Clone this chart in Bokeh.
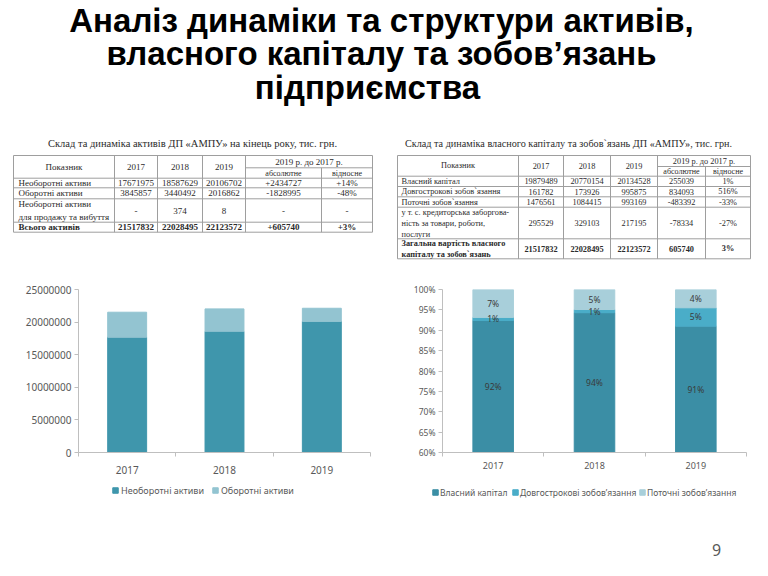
from bokeh.plotting import figure
from bokeh.layouts import column, row
from bokeh.models import Range1d, FixedTicker, PrintfTickFormatter, ColumnDataSource
from bokeh.core.properties import value
from bokeh.embed import file_html
from bokeh.resources import INLINE

# ---------------- data ----------------
title_lines = ["Аналіз динаміки та структури активів,",
               "власного капіталу та зобов’язань",
               "підприємства"]

years = ["2017", "2018", "2019"]

# table 1: assets
assets_title = "Склад та динаміка активів ДП «АМПУ» на кінець року, тис. грн."
assets_labels = [["Необоротні активи"], ["Оборотні активи"],
                 ["Необоротні активи", "для продажу та вибуття"], ["Всього активів"]]
assets_2017 = ["17671975", "3845857", "-", "21517832"]
assets_2018 = ["18587629", "3440492", "374", "22028495"]
assets_2019 = ["20106702", "2016862", "8", "22123572"]
assets_abs = ["+2434727", "-1828995", "-", "+605740"]
assets_rel = ["+14%", "-48%", "-", "+3%"]

# table 2: equity and liabilities
liab_title = "Склад та динаміка власного капіталу та зобов`язань ДП «АМПУ», тис. грн."
liab_labels = [["Власний капітал"], ["Довгострокові зобов`язання"], ["Поточні зобов`язання"],
               ["у т. с. кредиторська заборгова-", "ність за товари, роботи,", "послуги"],
               ["Загальна вартість власного", "капіталу та зобов`язань"]]
liab_2017 = ["19879489", "161782", "1476561", "295529", "21517832"]
liab_2018 = ["20770154", "173926", "1084415", "329103", "22028495"]
liab_2019 = ["20134528", "995875", "993169", "217195", "22123572"]
liab_abs = ["255039", "834093", "-483392", "-78334", "605740"]
liab_rel = ["1%", "516%", "-33%", "-27%", "3%"]

head_label = "Показник"
head_group = "2019 р. до 2017 р."
head_abs = "абсолютне"
head_rel = "відносне"

# chart 1: assets, thousand UAH
noncurrent_assets = [17671975, 18587629, 20106702]
current_assets = [3845857, 3440492, 2016862]
assets_series = ["Необоротні активи", "Оборотні активи"]
assets_ticks = [0, 5000000, 10000000, 15000000, 20000000, 25000000]

# chart 2: structure of equity and liabilities, %
equity_share = [92.4, 94.3, 91.0]
longterm_share = [0.75, 0.79, 4.51]
current_share = [6.85, 4.91, 4.49]
struct_series = ["Власний капітал", "Довгострокові зобов’язання", "Поточні зобов’язання"]
struct_ticks = [60, 65, 70, 75, 80, 85, 90, 95, 100]

page_number = "9"

# ---------------- styles ----------------
SERIF = "Liberation Serif"
SANS = "Noto Sans"
GRID = "#9E9E9E"
TXT = "#2B2B2B"
AXIS = "#BFBFBF"
LAB = "#595959"
C1 = ["#3F96AC", "#93C4D1"]
C2 = ["#3B8EA5", "#4AADC8", "#A8CFDA"]


def canvas(w, h):
    f = figure(width=w, height=h, x_range=Range1d(0, w), y_range=Range1d(h, 0),
               x_axis_location=None, y_axis_location=None, toolbar_location=None,
               output_backend="svg", min_border=0, outline_line_color=None)
    f.xgrid.visible = False
    f.ygrid.visible = False
    return f


# ---------------- top: title and tables ----------------
top = canvas(768, 270)
top.text(x=[381, 381, 367], y=[1, 34, 68], text=title_lines,
         text_font=value("Liberation Sans"), text_font_style="bold", text_font_size="33px",
         text_align="center", text_baseline="top", text_color="#000000")


def draw_table(p, cols, rows_y, sub_y, title, title_x, title_size, labels, cols_vals, fsize, line_h, pad):
    x0, y0, x1, y1 = [], [], [], []
    for y in rows_y:
        x0.append(cols[0]); x1.append(cols[-1]); y0.append(y); y1.append(y)
    x0.append(cols[4]); x1.append(cols[6]); y0.append(sub_y); y1.append(sub_y)
    for i, x in enumerate(cols):
        x0.append(x); x1.append(x)
        y0.append(sub_y if i == 5 else rows_y[0]); y1.append(rows_y[-1])
    p.segment(x0, y0, x1, y1, line_color=GRID, line_width=1)

    p.text(x=[title_x], y=[rows_y[0] - 12], text=[title], text_font=value(SERIF),
           text_font_size=title_size, text_align="center", text_baseline="middle", text_color=TXT)

    hx, hy, ht = [], [], []
    hmid = (rows_y[0] + rows_y[1]) / 2
    hx.append((cols[0] + cols[1]) / 2); hy.append(hmid); ht.append(head_label)
    for k, yr in enumerate(years):
        hx.append((cols[k + 1] + cols[k + 2]) / 2); hy.append(hmid); ht.append(yr)
    hx.append((cols[4] + cols[6]) / 2); hy.append((rows_y[0] + sub_y) / 2); ht.append(head_group)
    p.text(x=hx, y=hy, text=ht, text_font=value(SERIF), text_font_size=fsize,
           text_align="center", text_baseline="middle", text_color=TXT)
    smid = (sub_y + rows_y[1]) / 2
    p.text(x=[(cols[4] + cols[5]) / 2, (cols[5] + cols[6]) / 2], y=[smid, smid],
           text=[head_abs, head_rel], text_font=value(SERIF), text_font_size="8px",
           text_align="center", text_baseline="middle", text_color=TXT)

    n = len(labels)
    for i in range(n):
        yc = (rows_y[i + 1] + rows_y[i + 2]) / 2
        style = "bold" if i == n - 1 else "normal"
        lines = labels[i]
        ly = [yc + (k - (len(lines) - 1) / 2) * line_h for k in range(len(lines))]
        p.text(x=[cols[0] + pad] * len(lines), y=ly, text=lines, text_font=value(SERIF),
               text_font_size=fsize, text_font_style=style, text_align="left",
               text_baseline="middle", text_color=TXT)
        vx = [(cols[j + 1] + cols[j + 2]) / 2 for j in range(5)]
        vt = [cv[i] for cv in cols_vals]
        p.text(x=vx, y=[yc] * 5, text=vt, text_font=value(SERIF), text_font_size=fsize,
               text_font_style=style, text_align="center", text_baseline="middle", text_color=TXT)


draw_table(top, [13, 114, 157, 202, 245, 321, 372],
           [155, 177.7, 187.3, 198.3, 221.7, 231.7], 167.3,
           assets_title, 192, "10.5px", assets_labels,
           [assets_2017, assets_2018, assets_2019, assets_abs, assets_rel], "9px", 12.5, 5)

draw_table(top, [397, 518, 563, 610, 657, 705, 750],
           [155, 175.7, 186, 196.3, 206.7, 238.3, 258.3], 166,
           liab_title, 568, "10.2px", liab_labels,
           [liab_2017, liab_2018, liab_2019, liab_abs, liab_rel], "8.3px", 11, 4)

# ---------------- chart helpers ----------------
pos = [i + 0.5 for i in range(len(years))]


def style_axes(p, yticks, yfmt, fx, fy, x_standoff, y_standoff):
    p.xgrid.visible = False
    p.ygrid.visible = False
    xa = p.xaxis[0]
    xa.ticker = FixedTicker(ticks=pos, minor_ticks=list(range(len(years) + 1)))
    xa.major_label_overrides = {pos[i]: years[i] for i in range(len(years))}
    xa.major_tick_line_color = None
    xa.major_tick_out = 0
    xa.major_tick_in = 0
    xa.minor_tick_line_color = AXIS
    xa.minor_tick_out = 4
    xa.minor_tick_in = 0
    xa.axis_line_color = AXIS
    xa.major_label_text_font = SANS
    xa.major_label_text_font_size = fx
    xa.major_label_text_color = LAB
    xa.major_label_standoff = x_standoff
    ya = p.yaxis[0]
    ya.ticker = FixedTicker(ticks=yticks)
    ya.formatter = PrintfTickFormatter(format=yfmt)
    ya.axis_line_color = AXIS
    ya.major_tick_line_color = AXIS
    ya.major_tick_out = 4
    ya.major_tick_in = 0
    ya.minor_tick_line_color = None
    ya.major_label_text_font = SANS
    ya.major_label_text_font_size = fy
    ya.major_label_text_color = LAB
    ya.major_label_standoff = y_standoff


# ---------------- chart 1 ----------------
src1 = ColumnDataSource(dict(x=pos, noncurrent=noncurrent_assets, current=current_assets))
p1 = figure(width=384, height=214, x_range=Range1d(0, len(years)), y_range=Range1d(0, 25000000),
            toolbar_location=None, output_backend="svg", outline_line_color=None,
            min_border_left=78, min_border_right=14, min_border_top=17, min_border_bottom=32)
p1.vbar_stack(["noncurrent", "current"], x="x", width=0.4, color=C1, source=src1)
style_axes(p1, assets_ticks, "%d", "10px", "10px", 9, 3)

# ---------------- chart 2 ----------------
src2 = ColumnDataSource(dict(x=pos, equity=equity_share, longterm=longterm_share, current=current_share))
p2 = figure(width=384, height=214, x_range=Range1d(0, len(years)), y_range=Range1d(60, 100),
            toolbar_location=None, output_backend="svg", outline_line_color=None,
            min_border_left=58, min_border_right=22, min_border_top=19, min_border_bottom=23)
p2.vbar_stack(["equity", "longterm", "current"], x="x", width=0.4, color=C2, source=src2)
style_axes(p2, struct_ticks, "%d%%", "9px", "8.5px", 5, 3)

lx, ly, lt = [], [], []
for i in range(len(years)):
    bottom = 0.0
    for series in (equity_share, longterm_share, current_share):
        topv = bottom + series[i]
        lx.append(pos[i])
        ly.append((max(bottom, 60) + topv) / 2)
        lt.append("%d%%" % int(series[i] + 0.5))
        bottom = topv
p2.text(x=lx, y=ly, text=lt, text_font=value(SANS), text_font_size="8.5px",
        text_align="center", text_baseline="middle", text_color="#3A3A3A")

# ---------------- legends and page number (page x coordinates) ----------------
bottom_band = canvas(768, 92)
bottom_band.scatter(x=[115, 215], y=[6, 6], marker="square", size=5.5, color=C1)
bottom_band.text(x=[120.5, 220.5], y=[6, 6], text=assets_series, text_font=value(SANS),
                 text_font_size="9px", text_align="left", text_baseline="middle", text_color=LAB)
bottom_band.scatter(x=[435, 515, 642], y=[8, 8, 8], marker="square", size=5.5, color=C2)
bottom_band.text(x=[439.5, 519.5, 646.5], y=[8, 8, 8], text=struct_series, text_font=value(SANS),
                 text_font_size="8.5px", text_align="left", text_baseline="middle", text_color=LAB)
bottom_band.text(x=[716], y=[65], text=[page_number], text_font=value(SANS), text_font_size="16px",
                 text_align="center", text_baseline="middle", text_color=LAB)

layout = column(top, row(p1, p2), bottom_band)
open("out.html", "w").write(file_html(layout, INLINE))
